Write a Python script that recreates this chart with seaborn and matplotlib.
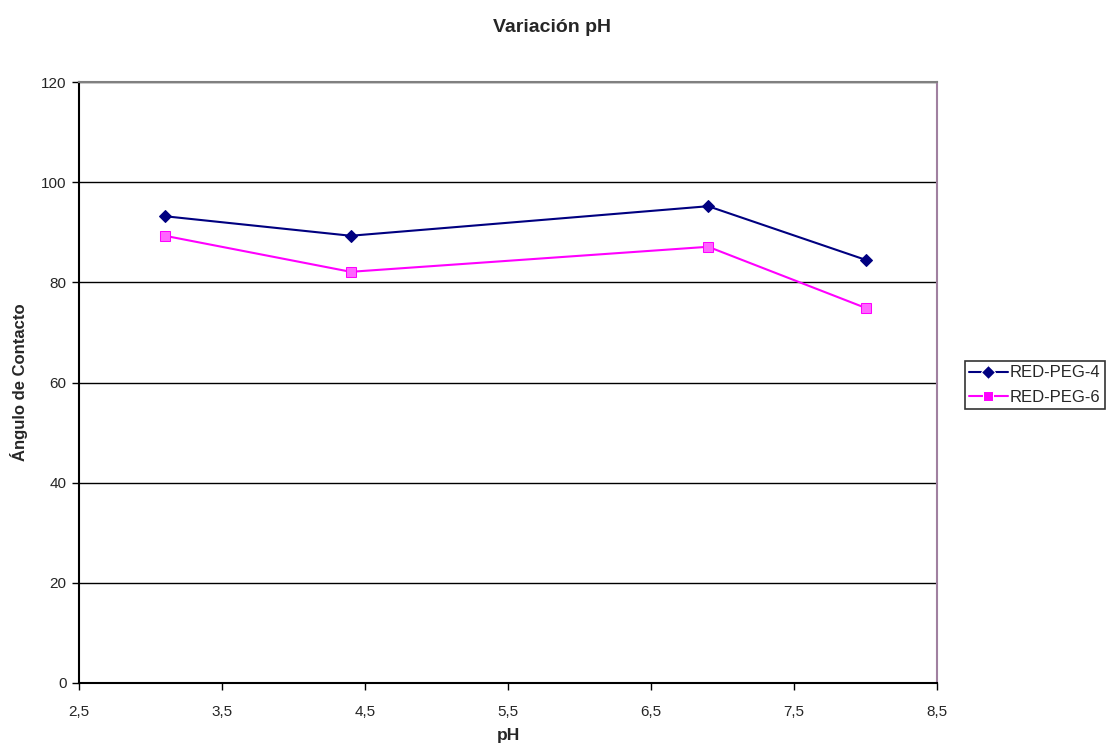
import matplotlib
matplotlib.use("Agg")
import matplotlib.pyplot as plt
import seaborn as sns
import pandas as pd

ph = [3.1, 4.4, 6.9, 8.0]
peg4 = [93.2, 89.3, 95.2, 84.5]
peg6 = [89.3, 82.1, 87.1, 74.9]
series_names = ["RED-PEG-4", "RED-PEG-6"]
xticks = [2.5, 3.5, 4.5, 5.5, 6.5, 7.5, 8.5]
yticks = [0, 20, 40, 60, 80, 100, 120]

sns.set_style("white")
plt.rcParams['font.family'] = ['Liberation Sans', 'DejaVu Sans']

df = pd.DataFrame({
    "pH": ph * 2,
    "val": peg4 + peg6,
    "serie": [series_names[0]] * 4 + [series_names[1]] * 4,
})

fig = plt.figure(figsize=(11.08, 7.46), dpi=100)
ax = fig.add_axes([79/1108, 1-683/746, (937-79)/1108, (683-82)/746])

sns.lineplot(data=df, x="pH", y="val", hue="serie", style="serie",
             palette={series_names[0]: "#000080", series_names[1]: "#FF00FF"},
             markers={series_names[0]: "D", series_names[1]: "s"},
             dashes=False, markersize=7, linewidth=1.5, ax=ax, legend=True)

for line, mfc, ms in zip(ax.lines[:2], ["#000080", "#FF66FF"], [6, 7]):
    line.set_markerfacecolor(mfc)
    line.set_markeredgecolor(line.get_color())
    line.set_markersize(ms)

ax.set_xlim(2.5, 8.5)
ax.set_ylim(0, 120)
ax.set_xticks(xticks)
ax.set_xticklabels([str(t).replace(".", ",") for t in xticks], fontsize=11)
ax.set_yticks(yticks)
ax.set_yticklabels([str(t) for t in yticks], fontsize=11)
ax.yaxis.grid(True, color="black", linewidth=1)
ax.xaxis.grid(False)
ax.tick_params(axis="both", direction="out", length=5, width=1, color="black")
ax.tick_params(axis="x", pad=11)
ax.tick_params(axis="y", pad=4)
ax.tick_params(axis="both", left=True, bottom=True)

for s in ["left", "bottom"]:
    ax.spines[s].set_color("black")
    ax.spines[s].set_linewidth(1.5)
ax.spines["top"].set_color("#808080")
ax.spines["top"].set_linewidth(1.5)
ax.spines["right"].set_color("#A080A0")
ax.spines["right"].set_linewidth(1.5)

ax.set_xlabel("pH", fontsize=12.5, fontweight="bold", labelpad=6)
ax.set_ylabel("Ángulo de Contacto", fontsize=12, fontweight="bold", labelpad=9)
fig.text(552/1108, 1-27/746, "Variación pH", fontsize=14, fontweight="bold",
         ha="center", va="center")

handles, labels = ax.get_legend_handles_labels()
leg = ax.legend(handles, labels, loc="center left", bbox_to_anchor=(965/1108, 1-385/746),
                bbox_transform=fig.transFigure, frameon=True, fancybox=False,
                edgecolor="black", fontsize=12, handlelength=2.3, borderpad=0.25,
                labelspacing=0.55, handletextpad=0.15, borderaxespad=0)
leg.get_frame().set_linewidth(1.2)

fig.savefig("out.png", dpi=100)
